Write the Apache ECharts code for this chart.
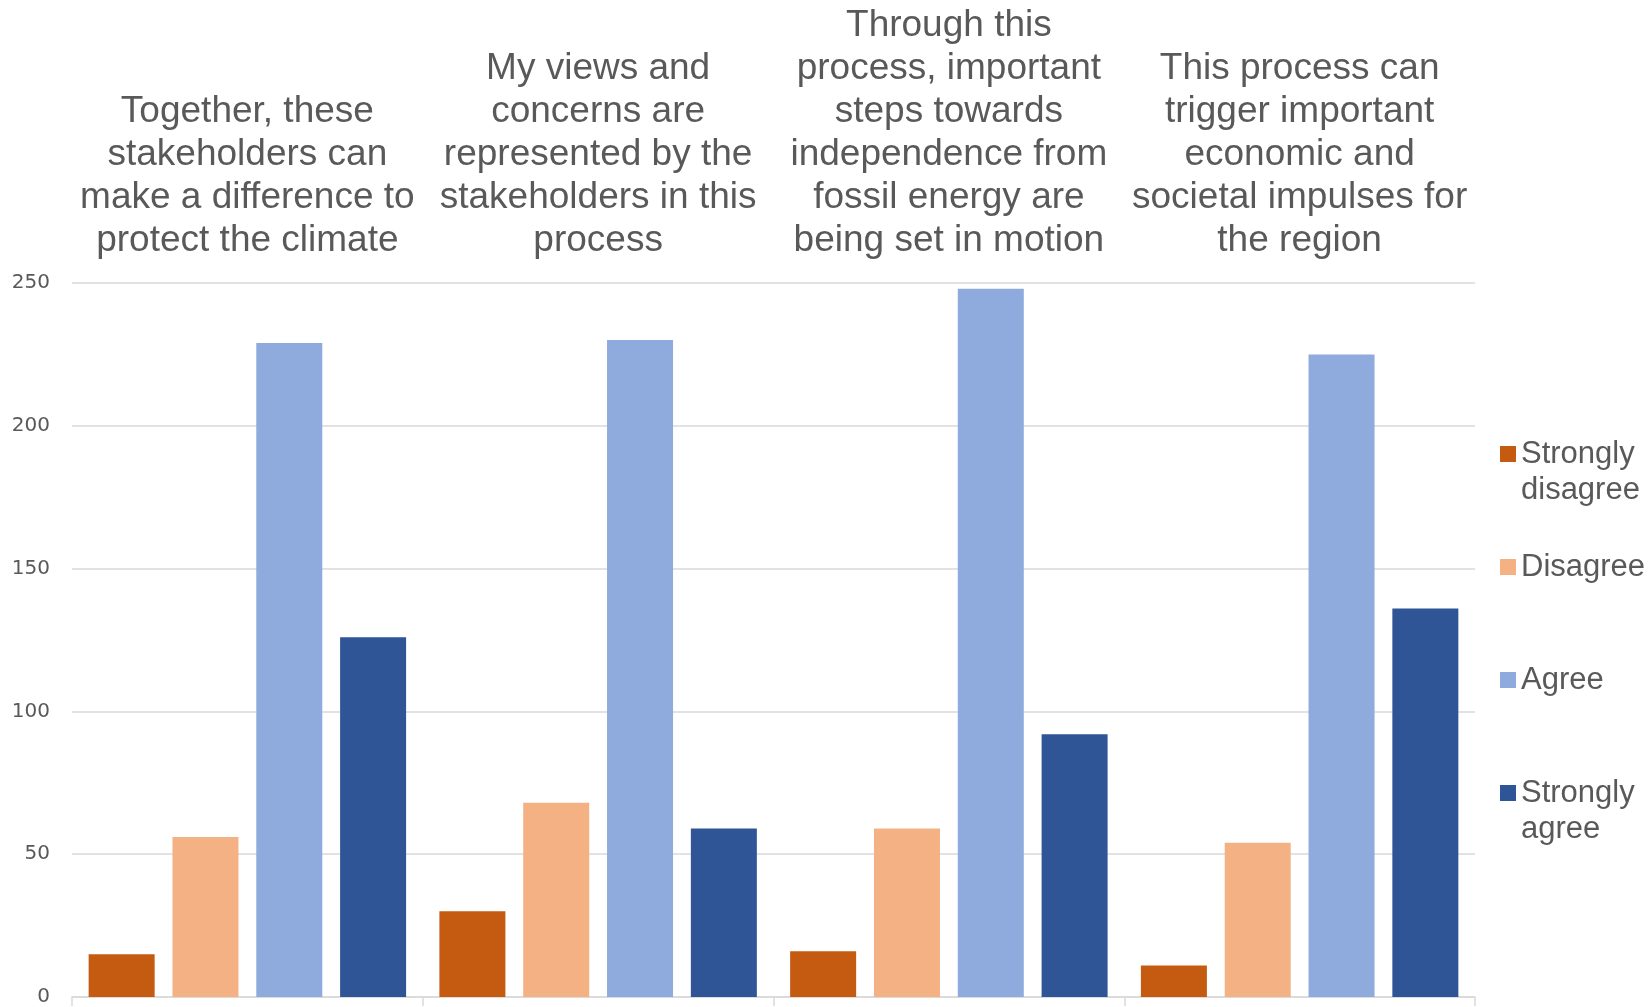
<!DOCTYPE html>
<html>
<head>
<meta charset="utf-8">
<script src="https://cdn.jsdelivr.net/npm/echarts@6/dist/echarts.min.js"></script>
<style>
  html, body { margin: 0; padding: 0; background: #fff; }
  #chart { width: 1652px; height: 1007px; }
</style>
</head>
<body>
<div id="chart"></div>
<script>
const categories = [
  'Together, these\nstakeholders can\nmake a difference to\nprotect the climate',
  'My views and\nconcerns are\nrepresented by the\nstakeholders in this\nprocess',
  'Through this\nprocess, important\nsteps towards\nindependence from\nfossil energy are\nbeing set in motion',
  'This process can\ntrigger important\neconomic and\nsocietal impulses for\nthe region'
];
const seriesNames = ['Strongly disagree', 'Disagree', 'Agree', 'Strongly agree'];
const stronglyDisagree = [15, 30, 16, 11];
const disagree = [56, 68, 59, 54];
const agree = [229, 230, 248, 225];
const stronglyAgree = [126, 59, 92, 136];
const colors = ['#C55A11', '#F4B183', '#8FAADC', '#2F5597'];

const FONT = "Arial, 'Liberation Sans', sans-serif";
const TEXT = '#595959';

// one legend per entry so each can sit where the original puts it;
// two-line names get a leading blank line so the swatch lines up with the first line
const legendTops = [400, 549, 662, 739];
const legends = seriesNames.map((name, i) => ({
  data: [name],
  orient: 'vertical',
  left: 1500,
  top: legendTops[i],
  padding: 0,
  icon: 'rect',
  itemWidth: 16,
  itemHeight: 16,
  itemGap: 0,
  selectedMode: false,
  formatter: (n) => n.startsWith('Strongly ') ? '\n' + n.replace('Strongly ', 'Strongly\n') : n,
  textStyle: {
    color: TEXT,
    fontSize: 31,
    lineHeight: 36,
    fontFamily: FONT
  }
}));

const values = [stronglyDisagree, disagree, agree, stronglyAgree];

const option = {
  animation: false,
  backgroundColor: '#fff',
  color: colors,
  grid: { left: 72, right: 177, top: 283, bottom: 5 },
  legend: legends,
  xAxis: [
    {
      type: 'category',
      data: categories,
      position: 'bottom',
      axisLine: { show: true, lineStyle: { color: '#d9d9d9', width: 1.5 } },
      axisTick: { show: true, length: 9, lineStyle: { color: '#d9d9d9', width: 1.5 } },
      axisLabel: { show: false },
      splitLine: { show: false }
    },
    {
      type: 'category',
      data: categories,
      position: 'top',
      axisLine: { show: false },
      axisTick: { show: false },
      axisLabel: {
        interval: 0,
        margin: 21,
        color: TEXT,
        fontSize: 37,
        lineHeight: 43,
        fontFamily: FONT,
        align: 'center'
      },
      splitLine: { show: false }
    }
  ],
  yAxis: {
    type: 'value',
    min: 0,
    max: 250,
    interval: 50,
    axisLine: { show: false },
    axisTick: { show: false },
    axisLabel: { color: TEXT, fontSize: 20, fontFamily: "'DejaVu Sans', sans-serif", margin: 22 },
    splitLine: { lineStyle: { color: '#d9d9d9', width: 1.5 } }
  },
  series: seriesNames.map((name, i) => ({
    name,
    type: 'bar',
    xAxisIndex: 0,
    data: values[i],
    barWidth: 66,
    barGap: '27%',
    itemStyle: { color: colors[i] }
  }))
};

const chart = echarts.init(document.getElementById('chart'));
chart.setOption(option);
</script>
</body>
</html>
